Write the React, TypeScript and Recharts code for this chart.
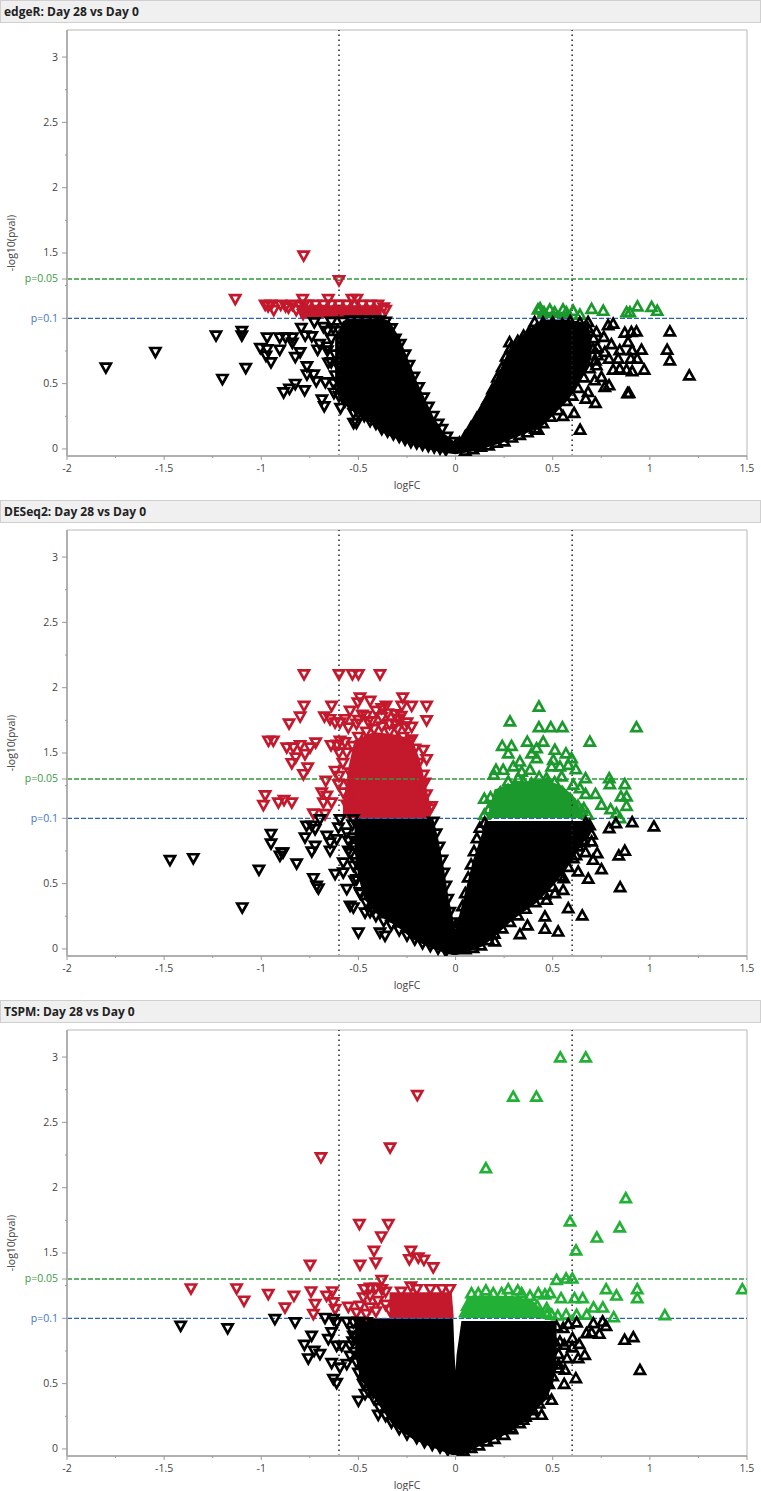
import React from 'react';
import { ComposedChart, Area, Scatter, XAxis, YAxis, ReferenceLine, ReferenceArea, Label } from 'recharts';

type P = [number, number];
type B = [number, number, number];

const panelTitles = ['edgeR: Day 28 vs Day 0', 'DESeq2: Day 28 vs Day 0', 'TSPM: Day 28 vs Day 0'];
const xTicks = [-2, -1.75, -1.5, -1.25, -1, -0.75, -0.5, -0.25, 0, 0.25, 0.5, 0.75, 1, 1.25, 1.5];
const yTicks = [0, 0.25, 0.5, 0.75, 1, 1.25, 1.301, 1.5, 1.75, 2, 2.25, 2.5, 2.75, 3];
const xMajor = [-2, -1.5, -1, -0.5, 0, 0.5, 1, 1.5];
const yMajor = [0, 0.5, 1.5, 2, 2.5, 3];

// Solid regions where the markers overlap completely: [logFC, lower, upper]
const edgeRMass: B[] = [[-0.62,0.5,0.85],[-0.58,0.36,0.98],[-0.54,0.3,1],[-0.456,0.22,1],[-0.38,0.13,1],[-0.34,0.1,0.98],[-0.288,0.07,0.85],[-0.2,0.02,0.52],[-0.115,-0.01,0.25],[-0.06,-0.03,0.12],[0,-0.04,0.05],[0.05,-0.03,0.12],[0.124,-0.01,0.3],[0.2,0.03,0.52],[0.227,0.04,0.6],[0.28,0.07,0.78],[0.364,0.12,0.9],[0.45,0.18,0.99],[0.57,0.36,0.99],[0.62,0.46,0.98],[0.68,0.62,0.96],[0.7,0.7,0.86]];
const edgeRRedMass: B[] = [[-0.8,1,1.1],[-0.38,1,1.1]];
const edgeRGreenMass: B[] = [[0.42,1,1.05],[0.6,1,1.05]];
const edgeRBlackDown: P[] = [[-1.8,0.62],[-1.545,0.74],[-1.233,0.865],[-1.1,0.9],[-1.1,0.865],[-1.08,0.617],[-1.2,0.533],[-0.97,0.85],[-1.005,0.77],[-0.97,0.76],[-0.976,0.71],[-0.95,0.66],[-0.905,0.85],[-0.905,0.757],[-0.875,0.85],[-0.84,0.85],[-0.84,0.81],[-0.825,0.7],[-0.8,0.737],[-0.885,0.43],[-0.855,0.457],[-0.825,0.495],[-0.777,0.446],[-0.794,0.923],[-0.774,0.865],[-0.74,0.86],[-0.765,0.63],[-0.765,0.566],[-0.73,0.566],[-0.717,0.515],[-0.67,0.508],[-0.727,0.967],[-0.688,0.375],[-0.676,0.324],[-0.626,0.426],[-0.592,0.311],[-0.525,0.273],[-0.525,0.196],[-0.51,0.196],[-0.71,0.757],[-0.655,0.656],[-0.628,0.5],[-0.68,0.93],[-0.64,0.97],[-0.6,0.9],[-0.7,0.8],[-0.66,0.75]];
const edgeRDownEdge: P[] = [[-0.6,0.4],[-0.57,0.36],[-0.54,0.33],[-0.5,0.27],[-0.47,0.25],[-0.44,0.21],[-0.41,0.19],[-0.38,0.15],[-0.35,0.13],[-0.32,0.11],[-0.29,0.09],[-0.26,0.07],[-0.23,0.05],[-0.2,0.04],[-0.17,0.03],[-0.14,0.02],[-0.11,0.01],[-0.08,0],[-0.05,-0.01],[-0.36,0.97],[-0.33,0.92],[-0.31,0.84],[-0.285,0.8],[-0.26,0.72],[-0.24,0.64],[-0.215,0.55],[-0.19,0.47],[-0.165,0.39],[-0.14,0.32],[-0.115,0.25],[-0.09,0.19],[-0.07,0.15],[-0.045,0.09],[-0.02,0.05],[-0.63,0.92],[-0.58,0.97],[-0.54,0.98],[-0.5,0.98],[-0.46,0.98],[-0.42,0.98],[-0.39,0.98],[-0.66,0.9],[-0.64,0.84],[-0.66,0.78],[-0.62,0.72],[-0.64,0.66],[-0.6,0.62],[-0.62,0.56],[-0.59,0.5],[-0.6,0.45]];
const edgeRRed: P[] = [[-0.782,1.477],[-0.6,1.288],[-1.134,1.145],[-0.787,1.145],[-0.655,1.145],[-0.533,1.145],[-0.508,1.145],[-0.98,1.1],[-0.965,1.09],[-0.95,1.1],[-0.936,1.06],[-0.9,1.1],[-0.875,1.09],[-0.86,1.08],[-0.84,1.1],[-0.82,1.06],[-0.8,1.09],[-0.78,1.1],[-0.785,1.03],[-0.76,1.1],[-0.72,1.1],[-0.68,1.1],[-0.64,1.1],[-0.6,1.1],[-0.56,1.1],[-0.52,1.1],[-0.48,1.1],[-0.44,1.1],[-0.4,1.1],[-0.37,1.08],[-0.36,1.06],[-0.69,1.06],[-0.56,1.05]];
const edgeRGreen: P[] = [[0.424,1.07],[0.435,1.08],[0.455,1.05],[0.485,1.07],[0.51,1.05],[0.553,1.07],[0.57,1.05],[0.605,1.06],[0.64,1.03],[0.7,1.075],[0.76,1.06],[0.88,1.05],[0.897,1.05],[0.936,1.094],[1.009,1.09],[1.038,1.06]];
const edgeRBlackUp: P[] = [[1.103,0.903],[1.089,0.763],[1.103,0.681],[1.203,0.566],[0.971,0.61],[0.909,0.597],[0.957,0.763],[0.931,0.903],[0.905,0.898],[0.871,0.893],[0.888,0.822],[0.909,0.758],[0.935,0.694],[0.902,0.694],[0.845,0.758],[0.837,0.694],[0.79,0.694],[0.811,0.61],[0.845,0.617],[0.88,0.61],[0.893,0.431],[0.885,0.43],[0.811,0.962],[0.785,0.949],[0.763,0.86],[0.802,0.804],[0.768,0.745],[0.725,0.643],[0.751,0.554],[0.716,0.528],[0.79,0.49],[0.768,0.477],[0.682,0.439],[0.67,0.388],[0.72,0.355],[0.61,0.278],[0.553,0.255],[0.641,0.15],[0.424,0.15],[0.725,0.898],[0.708,0.77],[0.407,0.975],[0.278,0.82],[0.682,0.975]];
const edgeRUpEdge: P[] = [[0.05,-0.01],[0.09,0],[0.13,0.02],[0.17,0.03],[0.21,0.05],[0.25,0.06],[0.29,0.09],[0.33,0.11],[0.37,0.13],[0.41,0.16],[0.45,0.2],[0.49,0.25],[0.53,0.3],[0.57,0.37],[0.6,0.41],[0.63,0.47],[0.66,0.55],[0.69,0.62],[0.72,0.68],[0.02,0.05],[0.05,0.1],[0.08,0.17],[0.11,0.24],[0.14,0.31],[0.165,0.38],[0.19,0.46],[0.215,0.55],[0.24,0.63],[0.26,0.71],[0.285,0.78],[0.32,0.83],[0.35,0.87],[0.38,0.9],[0.42,0.93],[0.45,0.97],[0.5,0.97],[0.55,0.96],[0.59,0.98],[0.64,0.97],[0.68,0.93],[0.71,0.85],[0.73,0.78],[0.73,0.72]];

const deseqMass: B[] = [[-0.52,0.75,0.98],[-0.5,0.55,1],[-0.47,0.38,1],[-0.4,0.26,1],[-0.3,0.17,1],[-0.217,0.07,1],[-0.13,0.01,1],[-0.115,0,1],[-0.09,-0.01,0.85],[-0.06,-0.03,0.62],[-0.035,-0.04,0.38],[0,-0.05,0.15],[0.04,-0.03,0.38],[0.09,-0.01,0.68],[0.14,0.02,0.9],[0.15,0.03,0.98],[0.194,0.085,0.98],[0.297,0.226,0.98],[0.417,0.353,0.98],[0.5,0.48,0.98],[0.57,0.61,0.98],[0.66,0.82,0.98],[0.69,0.9,0.98]];
const deseqRedMass: B[] = [[-0.58,1,1.1],[-0.55,1,1.4],[-0.52,1,1.6],[-0.42,1,1.66],[-0.3,1,1.64],[-0.22,1,1.6],[-0.185,1,1.45],[-0.16,1,1.3],[-0.13,1,1.1]];
const deseqGreenMass: B[] = [[0.17,1,1.05],[0.2,1,1.22],[0.3,1,1.27],[0.45,1,1.3],[0.55,1,1.25],[0.62,1,1.15],[0.66,1,1.02]];
const deseqRed: P[] = [[-0.78,2.1],[-0.6,2.1],[-0.531,2.1],[-0.5,2.1],[-0.389,2.1],[-0.78,1.858],[-0.638,1.858],[-0.8,1.776],[-0.857,1.723],[-0.675,1.776],[-0.646,1.756],[-0.62,1.73],[-0.595,1.73],[-0.569,1.756],[-0.552,1.692],[-0.543,1.82],[-0.492,1.922],[-0.503,1.883],[-0.44,1.896],[-0.358,1.858],[-0.272,1.922],[-0.277,1.858],[-0.226,1.858],[-0.149,1.858],[-0.149,1.748],[-0.226,1.697],[-0.311,1.794],[-0.963,1.59],[-0.938,1.59],[-0.869,1.539],[-0.835,1.539],[-0.8,1.557],[-0.72,1.577],[-0.749,1.539],[-0.775,1.488],[-0.823,1.462],[-0.843,1.419],[-0.761,1.386],[-0.783,1.335],[-0.641,1.557],[-0.595,1.59],[-0.62,1.36],[-0.668,1.284],[-0.98,1.174],[-0.989,1.098],[-0.912,1.118],[-0.883,1.138],[-0.843,1.118],[-0.689,1.195],[-0.663,1.169],[-0.638,1.118],[-0.68,1.118],[-0.732,1.034],[-0.672,1.029],[-0.603,1.258],[-0.578,1.195],[-0.543,1.348],[-0.535,1.195],[-0.56,1.1],[-0.226,1.6],[-0.209,1.53],[-0.166,1.52],[-0.149,1.45],[-0.166,1.33],[-0.158,1.27],[-0.124,1.09],[-0.149,1.09],[-0.48,1.79],[-0.45,1.74],[-0.41,1.82],[-0.38,1.77],[-0.34,1.72],[-0.3,1.76],[-0.26,1.7],[-0.51,1.72],[-0.56,1.5],[-0.58,1.42],[-0.55,1.26],[-0.6,1.32],[-0.5,1.62],[-0.46,1.66],[-0.42,1.68],[-0.38,1.7],[-0.34,1.66],[-0.3,1.68],[-0.27,1.62],[-0.24,1.58],[-0.53,1.55],[-0.5,1.75],[-0.46,1.78],[-0.43,1.74],[-0.38,1.84],[-0.35,1.8],[-0.31,1.72],[-0.28,1.78],[-0.25,1.73],[-0.19,1.42],[-0.17,1.25],[-0.15,1.18],[-0.13,1.07],[-0.6,1.5],[-0.61,1.56],[-0.57,1.58]];
const deseqGreen: P[] = [[0.429,1.858],[0.28,1.744],[0.429,1.7],[0.49,1.7],[0.55,1.7],[0.931,1.7],[0.691,1.59],[0.24,1.557],[0.288,1.557],[0.369,1.59],[0.451,1.59],[0.417,1.54],[0.511,1.527],[0.568,1.5],[0.271,1.5],[0.391,1.5],[0.417,1.463],[0.597,1.463],[0.208,1.374],[0.331,1.437],[0.297,1.4],[0.245,1.374],[0.503,1.45],[0.494,1.4],[0.537,1.4],[0.58,1.412],[0.619,1.379],[0.197,1.336],[0.383,1.374],[0.34,1.36],[0.546,1.323],[0.669,1.31],[0.791,1.31],[0.794,1.264],[0.871,1.264],[0.64,1.233],[0.606,1.26],[0.669,1.19],[0.72,1.19],[0.851,1.17],[0.88,1.17],[0.751,1.106],[0.88,1.098],[0.148,1.152],[0.18,1.165],[0.148,1.03],[0.798,1.073],[0.828,1.042],[0.846,1.004],[0.22,1.17],[0.271,1.285],[0.322,1.31],[0.468,1.31],[0.66,1.08],[0.63,1.05],[0.2,1.12],[0.17,1.07],[0.23,1.2],[0.27,1.22],[0.31,1.25],[0.35,1.28],[0.39,1.27],[0.43,1.32],[0.47,1.27],[0.51,1.28],[0.55,1.2],[0.59,1.15],[0.63,1.1],[0.65,1.06],[0.68,1.03]];
const deseqBlackDown: P[] = [[-1.47,0.677],[-1.35,0.692],[-1.012,0.603],[-1.098,0.315],[-0.95,0.876],[-0.95,0.804],[-0.895,0.735],[-0.888,0.735],[-0.904,0.71],[-0.818,0.651],[-0.732,0.539],[-0.715,0.48],[-0.706,0.46],[-0.767,0.94],[-0.74,0.94],[-0.698,0.99],[-0.775,0.85],[-0.723,0.914],[-0.663,0.863],[-0.612,0.837],[-0.646,0.812],[-0.646,0.748],[-0.74,0.743],[-0.723,0.786],[-0.595,0.99],[-0.603,0.927],[-0.526,0.99],[-0.56,0.888],[-0.552,0.825],[-0.552,0.748],[-0.578,0.659],[-0.62,0.57],[-0.578,0.582],[-0.526,0.633],[-0.56,0.455],[-0.543,0.327],[-0.526,0.315],[-0.5,0.123],[-0.389,0.123],[-0.363,0.098],[-0.423,0.302],[-0.466,0.276],[-0.492,0.43],[-0.509,0.53]];
const deseqDownEdge: P[] = [[-0.52,0.52],[-0.49,0.42],[-0.46,0.35],[-0.44,0.28],[-0.41,0.25],[-0.37,0.21],[-0.33,0.18],[-0.29,0.14],[-0.25,0.1],[-0.21,0.07],[-0.17,0.04],[-0.13,0.02],[-0.09,0],[-0.05,-0.02],[-0.115,0.97],[-0.1,0.88],[-0.085,0.78],[-0.07,0.68],[-0.06,0.58],[-0.05,0.48],[-0.04,0.38],[-0.03,0.28],[-0.02,0.2],[-0.53,0.95],[-0.53,0.85],[-0.52,0.78],[-0.51,0.66],[-0.5,0.58],[-0.54,0.73]];
const deseqBlackUp: P[] = [[1.021,0.94],[0.909,0.973],[0.825,0.966],[0.791,0.927],[0.871,0.754],[0.84,0.718],[0.847,0.476],[0.652,0.259],[0.58,0.315],[0.46,0.251],[0.46,0.157],[0.528,0.136],[0.37,0.182],[0.331,0.116],[0.202,0.06],[0.683,0.54],[0.751,0.614],[0.631,0.596],[0.708,0.685],[0.729,0.736],[0.669,0.744],[0.7,0.825],[0.631,0.787],[0.657,0.838],[0.588,0.812],[0.557,0.545],[0.554,0.455],[0.511,0.43],[0.468,0.379],[0.606,0.698],[0.56,0.7]];
const deseqUpEdge: P[] = [[0.02,0.2],[0.035,0.33],[0.05,0.43],[0.065,0.55],[0.08,0.65],[0.095,0.75],[0.11,0.85],[0.125,0.93],[0.15,0.97],[0.05,0],[0.09,0.01],[0.13,0.03],[0.17,0.07],[0.2,0.12],[0.24,0.16],[0.28,0.21],[0.32,0.26],[0.36,0.31],[0.41,0.36],[0.46,0.42],[0.5,0.48],[0.54,0.56],[0.58,0.63],[0.62,0.72],[0.66,0.82],[0.69,0.95],[0.7,0.88],[0.67,0.97]];

const tspmMass: B[] = [[-0.517,0.72,0.98],[-0.49,0.53,1],[-0.45,0.46,1],[-0.406,0.36,1],[-0.32,0.175,1],[-0.217,0.073,1],[-0.115,0.01,1],[-0.012,-0.05,1],[-0.005,-0.055,0.72],[0,-0.055,0.6],[0.005,-0.055,0.72],[0.03,-0.05,0.98],[0.142,0.035,0.98],[0.28,0.124,0.98],[0.365,0.226,0.98],[0.468,0.379,0.98],[0.503,0.507,0.98],[0.52,0.7,0.98]];
const tspmRedMass: B[] = [[-0.34,1,1.2],[-0.02,1,1.2],[-0.01,1,1.02]];
const tspmGreenMass: B[] = [[0.03,1,1],[0.06,1,1.17],[0.3,1,1.17],[0.4,1,1.13],[0.47,1,1.03]];
const tspmRed: P[] = [[-0.197,2.706],[-0.337,2.305],[-0.693,2.229],[-0.495,1.718],[-0.346,1.718],[-0.382,1.624],[-0.42,1.514],[-0.411,1.425],[-0.492,1.407],[-0.23,1.514],[-0.238,1.45],[-0.192,1.463],[-0.163,1.445],[-0.115,1.387],[-0.749,1.407],[-0.38,1.29],[-1.362,1.226],[-1.127,1.226],[-1.089,1.132],[-0.964,1.183],[-0.878,1.08],[-0.832,1.17],[-0.744,1.203],[-0.723,1.106],[-0.732,1.03],[-0.664,1.17],[-0.634,1.203],[-0.629,1.119],[-0.62,1.068],[-0.552,1.086],[-0.475,1.157],[-0.44,1.17],[-0.492,1.093],[-0.44,1.08],[-0.47,1.22],[-0.44,1.23],[-0.41,1.23],[-0.38,1.22],[-0.36,1.2],[-0.4,1.13],[-0.36,1.1],[-0.34,1.06],[-0.51,1.04],[-0.46,1.03],[-0.41,1.05],[-0.23,1.24],[-0.2,1.22],[-0.13,1.22],[-0.07,1.22],[-0.03,1.22],[-0.28,1.2]];
const tspmGreen: P[] = [[0.539,3],[0.67,3],[0.297,2.7],[0.416,2.7],[0.156,2.152],[0.876,1.922],[0.589,1.744],[0.845,1.698],[0.727,1.621],[0.62,1.522],[0.52,1.297],[0.569,1.307],[0.601,1.307],[0.271,1.226],[0.32,1.216],[0.486,1.195],[0.543,1.157],[0.612,1.157],[0.654,1.157],[0.775,1.226],[0.828,1.177],[0.935,1.226],[0.935,1.157],[1.476,1.226],[1.077,1.027],[0.71,1.085],[0.758,1.085],[0.814,1.012],[0.675,1.03],[0.623,1.03],[0.569,1.03],[0.526,1.024],[0.469,1.08],[0.495,1.03],[0.082,1.195],[0.117,1.195],[0.156,1.216],[0.194,1.195],[0.237,1.195],[0.34,1.195],[0.383,1.175],[0.426,1.195],[0.46,1.185],[0.06,1.1],[0.05,1.05],[0.42,1.1],[0.47,1.04]];
const tspmBlackDown: P[] = [[-1.415,0.94],[-1.173,0.92],[-0.93,0.991],[-0.826,0.966],[-0.741,0.864],[-0.778,0.795],[-0.728,0.749],[-0.698,0.723],[-0.758,0.69],[-0.672,1],[-0.629,0.991],[-0.655,0.838],[-0.638,0.89],[-0.612,0.966],[-0.612,0.787],[-0.586,0.787],[-0.543,0.787],[-0.638,0.654],[-0.595,0.62],[-0.56,0.647],[-0.629,0.532],[-0.612,0.501],[-0.5,0.366],[-0.475,0.494],[-0.466,0.417],[-0.423,0.43],[-0.398,0.259],[-0.526,0.966],[-0.458,0.966],[-0.526,0.864],[-0.543,0.71]];
const tspmDownEdge: P[] = [[-0.5,0.58],[-0.47,0.5],[-0.45,0.44],[-0.42,0.38],[-0.39,0.31],[-0.36,0.25],[-0.33,0.2],[-0.29,0.15],[-0.25,0.11],[-0.2,0.08],[-0.16,0.05],[-0.12,0.03],[-0.08,0.01],[-0.04,-0.01],[-0.53,0.9],[-0.53,0.82],[-0.52,0.74],[-0.51,0.66],[-0.5,0.97],[-0.56,0.97]];
const tspmBlackUp: P[] = [[0.949,0.608],[0.915,0.858],[0.87,0.838],[0.619,0.545],[0.559,0.501],[0.757,0.978],[0.709,0.966],[0.774,0.945],[0.623,0.971],[0.74,0.884],[0.674,0.889],[0.7,0.894],[0.602,0.851],[0.636,0.807],[0.665,0.723],[0.631,0.698],[0.574,0.698],[0.563,0.61],[0.52,0.94],[0.554,0.928],[0.537,0.825],[0.494,0.379],[0.472,0.507],[0.443,0.264],[0.4,0.264],[0.288,0.154],[0.348,0.226]];
const tspmUpEdge: P[] = [[0.04,-0.01],[0.08,0.01],[0.12,0.03],[0.16,0.06],[0.2,0.08],[0.25,0.11],[0.29,0.16],[0.33,0.2],[0.36,0.25],[0.4,0.3],[0.43,0.35],[0.46,0.42],[0.48,0.5],[0.5,0.56],[0.53,0.65],[0.53,0.73],[0.52,0.8],[0.58,0.96],[0.56,0.8],[0.6,0.78],[0.53,0.62]];

const GREEN_LINE = '#2e9a3c';
const BLUE_LINE = '#2a62b8';
const FONT = '"Open Sans", sans-serif';

const pts = (list: P[]) => list.map(([x, y]) => ({ x, y }));
const bands = (list: B[]) => list.map(([x, lo, hi]) => ({ x, band: [lo, hi] }));

const Tri = (up: boolean, color: string) => (props: any) => {
  const { cx, cy } = props;
  if (cx == null || cy == null) return null;
  const s = up ? 1 : -1;
  const d = `M${cx - 5},${cy + s * 4.3}L${cx + 5},${cy + s * 4.3}L${cx},${cy - s * 4.6}Z`;
  return <path d={d} fill="none" stroke={color} strokeWidth={2.7} strokeLinejoin="miter" />;
};

const XTick = (props: any) => {
  const { x, y, payload } = props;
  const major = xMajor.includes(payload.value);
  return (
    <g>
      <line x1={x} x2={x} y1={y} y2={y + (major ? 4 : 2)} stroke="#999" />
      {major && <text x={x} y={y + 16} textAnchor="middle" fontSize={10.5} fill="#444" fontFamily={FONT}>{payload.value}</text>}
    </g>
  );
};

const YTick = (props: any) => {
  const { x, y, payload } = props;
  const v = payload.value;
  const major = yMajor.includes(v);
  const label = v === 1 ? 'p=0.1' : v === 1.301 ? 'p=0.05' : major ? String(v) : '';
  const fill = v === 1 ? '#3f74c4' : v === 1.301 ? '#3f9a45' : '#444';
  return (
    <g>
      <line x1={x - (major || label ? 5 : 2)} x2={x} y1={y} y2={y} stroke="#999" />
      {label && <text x={x - 9} y={y + 3.5} textAnchor="end" fontSize={10.5} fill={fill} fontFamily={FONT}>{label}</text>}
    </g>
  );
};

type PanelProps = { title: string; top: number; mass: B[]; redMass: B[]; greenMass: B[]; red: P[]; green: P[]; down: P[]; up: P[]; greenColor: string };

const Panel = ({ title, top, mass, redMass, greenMass, red, green, down, up, greenColor }: PanelProps) => (
  <div style={{ position: 'absolute', left: 0, top, width: 761, height: 500 }}>
    <div style={{ position: 'absolute', left: 0, top: 0, width: 759, height: 21, background: '#f0f0f0', border: '1px solid #cfcfcf', font: `bold 12px ${FONT}`, color: '#222', lineHeight: '21px', textIndent: 3 }}>{title}</div>
    <ComposedChart width={761} height={500} margin={{ top: 30, right: 14, bottom: 0, left: 0 }} style={{ position: 'absolute', left: 0, top: 0 }}>
      <XAxis type="number" dataKey="x" domain={[-2, 1.5]} ticks={xTicks} interval={0} height={44} tick={<XTick />} tickSize={0} tickMargin={0} tickLine={false} axisLine={{ stroke: '#b0b0b0', strokeWidth: 2 }} allowDataOverflow>
        <Label value="logFC" position="insideBottom" offset={11} fontSize={10.5} fill="#444" fontFamily={FONT} />
      </XAxis>
      <YAxis type="number" dataKey="y" domain={[-0.054, 3.207]} ticks={yTicks} interval={0} width={67} tick={<YTick />} tickSize={0} tickMargin={0} tickLine={false} axisLine={{ stroke: '#b0b0b0', strokeWidth: 2 }} allowDataOverflow>
        <Label value="-log10(pval)" angle={-90} position="insideLeft" offset={11} fontSize={10.5} fill="#444" fontFamily={FONT} style={{ textAnchor: 'middle' }} />
      </YAxis>
      <ReferenceArea x1={-2} x2={1.5} y1={-0.054} y2={3.207} fill="none" stroke="#b8b8b8" />
      <ReferenceLine y={1.301} stroke={GREEN_LINE} strokeDasharray="5 2" strokeWidth={1.3} />
      <ReferenceLine y={1} stroke={BLUE_LINE} strokeDasharray="5 2" strokeWidth={1.3} />
      <ReferenceLine x={-0.6} stroke="#222" strokeDasharray="1.5 3.5" strokeWidth={1.5} />
      <ReferenceLine x={0.6} stroke="#222" strokeDasharray="1.5 3.5" strokeWidth={1.5} />
      <Area data={bands(redMass)} dataKey="band" fill="#c4182c" fillOpacity={1} stroke="none" isAnimationActive={false} dot={false} activeDot={false} />
      <Area data={bands(greenMass)} dataKey="band" fill={greenColor} fillOpacity={1} stroke="none" isAnimationActive={false} dot={false} activeDot={false} />
      <Scatter data={pts(red)} dataKey="y" shape={Tri(false, '#c4182c')} isAnimationActive={false} />
      <Scatter data={pts(green)} dataKey="y" shape={Tri(true, greenColor)} isAnimationActive={false} />
      <Area data={bands(mass)} dataKey="band" fill="#000" fillOpacity={1} stroke="none" isAnimationActive={false} dot={false} activeDot={false} />
      <Scatter data={pts(down)} dataKey="y" shape={Tri(false, '#000')} isAnimationActive={false} />
      <Scatter data={pts(up)} dataKey="y" shape={Tri(true, '#000')} isAnimationActive={false} />
    </ComposedChart>
  </div>
);

export default function App() {
  return (
    <div style={{ position: 'absolute', left: 0, top: 0, width: 761, height: 1491, background: '#fff' }}>
      <Panel title={panelTitles[0]} top={0} mass={edgeRMass} redMass={edgeRRedMass} greenMass={edgeRGreenMass} red={edgeRRed} green={edgeRGreen} down={[...edgeRBlackDown, ...edgeRDownEdge]} up={[...edgeRBlackUp, ...edgeRUpEdge]} greenColor="#1c992c" />
      <Panel title={panelTitles[1]} top={500} mass={deseqMass} redMass={deseqRedMass} greenMass={deseqGreenMass} red={deseqRed} green={deseqGreen} down={[...deseqBlackDown, ...deseqDownEdge]} up={[...deseqBlackUp, ...deseqUpEdge]} greenColor="#1c992c" />
      <Panel title={panelTitles[2]} top={1000} mass={tspmMass} redMass={tspmRedMass} greenMass={tspmGreenMass} red={tspmRed} green={tspmGreen} down={[...tspmBlackDown, ...tspmDownEdge]} up={[...tspmBlackUp, ...tspmUpEdge]} greenColor="#22b136" />
    </div>
  );
}
